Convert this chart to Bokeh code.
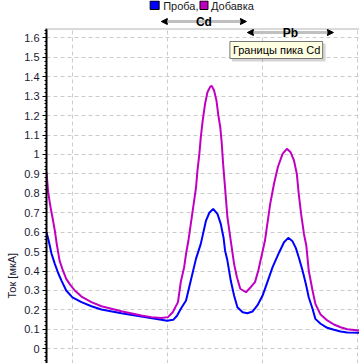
import math
import numpy as np
from bokeh.plotting import figure
from bokeh.models import (Range1d, FixedTicker, Label, BoxAnnotation, Arrow, NormalHead, Span, Title)
from bokeh.embed import file_html
from bokeh.resources import INLINE

# ---- data (potential, V ; current, uA) ----
blue_x = [-1.0545, -1.050, -1.044, -1.037, -1.030, -1.023, -1.013, -1.000, -0.981, -0.960,
          -0.939, -0.897, -0.855, -0.813, -0.801, -0.788, -0.780, -0.772, -0.761, -0.751,
          -0.740, -0.730, -0.719, -0.712, -0.704, -0.695, -0.688, -0.682, -0.679, -0.674,
          -0.667, -0.660, -0.653, -0.642, -0.632, -0.621, -0.611, -0.600, -0.590, -0.579,
          -0.565, -0.555, -0.546, -0.537, -0.530, -0.524, -0.516, -0.509, -0.503, -0.495,
          -0.489, -0.478, -0.464, -0.450, -0.436, -0.422, -0.396]
blue_y = [0.60, 0.557, 0.49, 0.437, 0.39, 0.351, 0.30, 0.265, 0.24, 0.219,
          0.202, 0.183, 0.166, 0.149, 0.144, 0.149, 0.17, 0.206, 0.249, 0.351,
          0.464, 0.54, 0.66, 0.70, 0.72, 0.694, 0.643, 0.57, 0.506, 0.454,
          0.351, 0.274, 0.214, 0.188, 0.183, 0.192, 0.223, 0.274, 0.343, 0.42,
          0.497, 0.548, 0.571, 0.553, 0.518, 0.471, 0.403, 0.334, 0.265, 0.206,
          0.154, 0.129, 0.108, 0.098, 0.089, 0.084, 0.082]

magenta_x = [-1.0545, -1.051, -1.046, -1.042, -1.037, -1.033, -1.027, -1.020, -1.013, -1.006,
             -0.995, -0.981, -0.960, -0.939, -0.897, -0.855, -0.834, -0.813, -0.799, -0.789,
             -0.778, -0.772, -0.765, -0.761, -0.756, -0.747, -0.740, -0.737, -0.733, -0.730,
             -0.726, -0.721, -0.716, -0.710, -0.707, -0.702, -0.697, -0.693, -0.689, -0.686,
             -0.683, -0.679, -0.674, -0.667, -0.660, -0.654, -0.647, -0.635, -0.625, -0.616,
             -0.609, -0.602, -0.595, -0.591, -0.584, -0.576, -0.568, -0.558, -0.549, -0.541,
             -0.534, -0.528, -0.524, -0.519, -0.513, -0.508, -0.503, -0.495, -0.489, -0.478,
             -0.464, -0.450, -0.436, -0.422, -0.396]
magenta_y = [0.908, 0.806, 0.728, 0.677, 0.608, 0.54, 0.454, 0.403, 0.36, 0.334,
             0.30, 0.269, 0.24, 0.219, 0.193, 0.171, 0.163, 0.158, 0.163, 0.188,
             0.24, 0.345, 0.42, 0.489, 0.557, 0.711, 0.831, 0.917, 1.003, 1.088,
             1.174, 1.26, 1.32, 1.349, 1.353, 1.329, 1.277, 1.2, 1.14, 1.06,
             0.95, 0.831, 0.677, 0.557, 0.437, 0.368, 0.309, 0.291, 0.317, 0.343,
             0.403, 0.48, 0.557, 0.626, 0.746, 0.849, 0.934, 1.003, 1.029, 1.011,
             0.969, 0.9, 0.797, 0.694, 0.591, 0.53, 0.403, 0.30, 0.231, 0.176,
             0.146, 0.125, 0.111, 0.101, 0.094]

series_names = ["Проба,", "Добавка"]
series_colors = ["#0000FF", "#C000C0"]

cd_bounds = [-0.813, -0.634]
pb_bounds = [-0.632, -0.451]
peak_names = ["Cd", "Pb"]
tooltip_text = "Границы пика Cd"

y_ticks = [0, 0.1, 0.2, 0.3, 0.4, 0.5, 0.6, 0.7, 0.8, 0.9, 1, 1.1, 1.2, 1.3, 1.4, 1.5, 1.6]
y_tick_labels = ["0", "0.1", "0.2", "0.3", "0.4", "0.5", "0.6", "0.7", "0.8", "0.9",
                 "1", "1.1", "1.2", "1.3", "1.4", "1.5", "1.6"]
x_grid = [-1.0, -0.8, -0.6, -0.4]
y_label = "Ток [мкА]"

# ---- layout ----
W, H = 359, 363
LEFT = 45
X0, X1 = -1.0545, -0.3962
Y0, YTOP = -0.0756, 1.7921
Y_PLOT_TOP = 1.648
FW = W - LEFT

def dx(px):
    return X0 + (px - LEFT) * (X1 - X0) / FW

def dy(py):
    return YTOP - py * (YTOP - Y0) / H

FONT = "Liberation Sans"

p = figure(width=W, height=H, output_backend="svg", toolbar_location=None,
           x_range=Range1d(X0, X1), y_range=Range1d(Y0, YTOP),
           x_axis_location=None, min_border_left=LEFT, min_border_top=0,
           min_border_right=0, min_border_bottom=0)
p.outline_line_color = None
p.background_fill_color = "white"
p.border_fill_color = "white"

minor = [round(v, 3) for v in np.arange(-0.06, 1.66, 0.02)]
p.yaxis.ticker = FixedTicker(ticks=y_ticks, minor_ticks=minor)
p.yaxis.bounds = (Y0, Y_PLOT_TOP)
p.yaxis.major_label_overrides = dict(zip(y_ticks, y_tick_labels))
p.yaxis.axis_line_width = 2
p.yaxis.axis_line_color = "black"
p.yaxis.major_tick_in = 0
p.yaxis.major_tick_out = 4
p.yaxis.minor_tick_in = 0
p.yaxis.minor_tick_out = 2
p.yaxis.major_tick_line_color = "black"
p.yaxis.minor_tick_line_color = "black"
p.yaxis.major_label_standoff = 3
p.yaxis.major_label_text_font = FONT
p.yaxis.major_label_text_font_size = "11px"
p.yaxis.major_label_text_color = "#1a1a33"

# axis title, placed in the left panel, starting near the bottom
p.add_layout(Title(text=y_label, align="left", offset=65, standoff=7,
                   text_font=FONT, text_font_size="11px", text_font_style="normal",
                   text_color="#1a1a33"), "left")

p.ygrid.ticker = FixedTicker(ticks=y_ticks)
p.xgrid.ticker = FixedTicker(ticks=x_grid)
for g in (p.xgrid, p.ygrid):
    g.grid_line_color = "#cccccc"
    g.grid_line_dash = "4 3"
    g.grid_line_width = 1

p.line(blue_x, blue_y, line_color=series_colors[0], line_width=2)
p.line(magenta_x, magenta_y, line_color=series_colors[1], line_width=2)

# white header band above the plot area
p.add_layout(BoxAnnotation(left=X0, right=X1, top=YTOP, bottom=Y_PLOT_TOP,
                           fill_color="white", fill_alpha=1, line_color=None))
p.add_layout(Span(location=dy(28.5), dimension="width", line_color="#b4b4b4", line_width=1))

# legend at top
leg_sq = [(149, 158), (199, 207)]
leg_tx = [162, 210]
for (l, r), tx, name, col in zip(leg_sq, leg_tx, series_names, series_colors):
    p.add_layout(BoxAnnotation(left=dx(l), right=dx(r), top=dy(0.5), bottom=dy(9),
                               fill_color=col, fill_alpha=1, line_color="black",
                               line_width=1, line_alpha=1))
    p.add_layout(Label(x=dx(tx), y=dy(5), text=name, text_align="left",
                       text_baseline="middle", text_font=FONT,
                       text_font_size="11px", text_color="#1a1a1a"))

# peak boundary arrows
for bounds, py, name in zip([cd_bounds, pb_bounds], [21, 32], peak_names):
    yv = dy(py)
    p.add_layout(Arrow(start=NormalHead(size=6, fill_color="black", line_color="black"),
                       end=NormalHead(size=6, fill_color="black", line_color="black"),
                       x_start=bounds[0], y_start=yv, x_end=bounds[1], y_end=yv,
                       line_color="#c0c0c0", line_width=3))
    p.add_layout(Label(x=(bounds[0] + bounds[1]) / 2, y=yv, text=name,
                       text_align="center", text_baseline="middle",
                       text_font=FONT, text_font_size="12px", text_font_style="bold",
                       text_color="black"))

# tooltip box
p.add_layout(BoxAnnotation(left=dx(231), right=dx(325), top=dy(43), bottom=dy(61),
                           fill_color="#888888", fill_alpha=0.35, line_color=None))
p.add_layout(BoxAnnotation(left=dx(229), right=dx(322), top=dy(41), bottom=dy(58),
                           fill_color="#FFFFE1", fill_alpha=1, line_color="#767676",
                           line_width=1, line_alpha=1))
p.add_layout(Label(x=dx(232), y=dy(49.5), text=tooltip_text, text_align="left",
                   text_baseline="middle", text_font=FONT, text_font_size="11px",
                   text_color="black"))

open("out.html", "w").write(file_html(p, INLINE))
